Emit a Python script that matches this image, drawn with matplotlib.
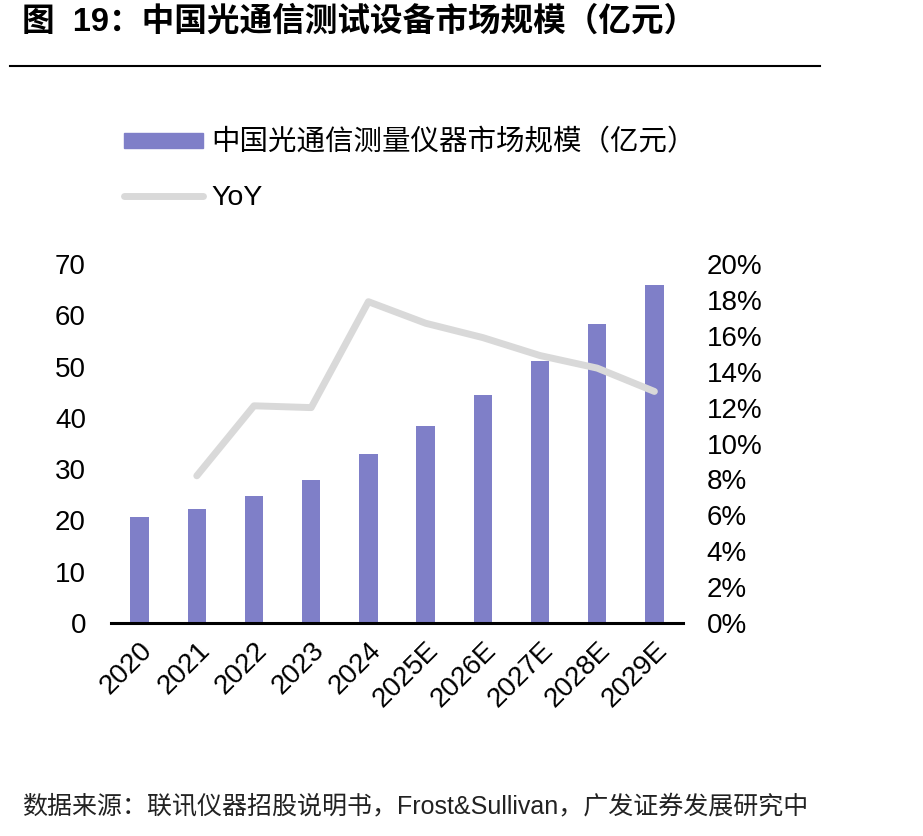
import matplotlib
matplotlib.use("Agg")
import matplotlib.pyplot as plt
from matplotlib.lines import Line2D
from matplotlib.patches import Patch

plt.rcParams['font.family'] = ['Liberation Sans', 'Noto Sans CJK SC', 'DejaVu Sans']

years = ["2020", "2021", "2022", "2023", "2024", "2025E", "2026E", "2027E", "2028E", "2029E"]
market = [20.6, 22.2, 24.8, 27.9, 32.9, 38.4, 44.4, 51.1, 58.3, 65.9]
yoy = [None, 8.2, 12.1, 12.0, 17.9, 16.7, 15.9, 14.9, 14.2, 12.9]
left_ticks = [0, 10, 20, 30, 40, 50, 60, 70]
right_ticks = [0, 2, 4, 6, 8, 10, 12, 14, 16, 18, 20]

bar_color = "#7F7FC8"
line_color = "#D9D9D9"

fig = plt.figure(figsize=(9.23, 8.36), dpi=100)

# title and rule
fig.text(22 / 923, 1 - 22 / 836, "图  19：中国光通信测试设备市场规模（亿元）",
         fontsize=23.5, fontweight='bold', va='center', ha='left')
fig.add_artist(Line2D([10 / 923, 820 / 923], [1 - 66 / 836, 1 - 66 / 836],
                      color='black', lw=1.5))

ax = fig.add_axes([111 / 923, 1 - 623 / 836, 572 / 923, 359 / 836])
x = list(range(len(years)))
ax.bar(x, market, width=0.32, color=bar_color, zorder=2)
ax.set_ylim(0, 70)
ax.set_xlim(-0.5, len(years) - 0.5)
ax.set_yticks(left_ticks)
ax.set_xticks(x)
ax.set_xticklabels(years, rotation=45, ha='right', rotation_mode='anchor')
ax.tick_params(axis='both', length=0, labelsize=20)
ax.tick_params(axis='y', pad=18)
ax.tick_params(axis='x', pad=10)
for s in ['top', 'right', 'left']:
    ax.spines[s].set_visible(False)
ax.spines['bottom'].set_linewidth(2.2)
ax.spines['bottom'].set_zorder(3)

ax2 = ax.twinx()
xs = [i for i, v in zip(x, yoy) if v is not None]
ys = [v for v in yoy if v is not None]
ax2.plot(xs, ys, color=line_color, lw=5, solid_capstyle='round',
         solid_joinstyle='round', zorder=3)
ax2.set_ylim(0, 20)
ax2.set_yticks(right_ticks)
ax2.set_yticklabels([f"{t}%" for t in right_ticks])
ax2.tick_params(axis='y', length=0, labelsize=20, pad=17)
for s in ['top', 'right', 'left', 'bottom']:
    ax2.spines[s].set_visible(False)

# legend
handles = [Patch(color=bar_color), Line2D([0], [0], color=line_color, lw=5, solid_capstyle='round')]
labels = ["中国光通信测量仪器市场规模（亿元）", "YoY"]
fig.legend(handles, labels, loc='upper left', bbox_to_anchor=(113 / 923, 1 - 118 / 836),
           frameon=False, fontsize=20.5, handlelength=2.75, handleheight=0.45,
           labelspacing=1.0, handletextpad=0.3, borderaxespad=0)

fig.text(22 / 923, 1 - 806 / 836,
         "数据来源：联讯仪器招股说明书，Frost&Sullivan，广发证券发展研究中",
         fontsize=18, va='center', ha='left', color='#222222')

fig.savefig("out.png", dpi=100)
